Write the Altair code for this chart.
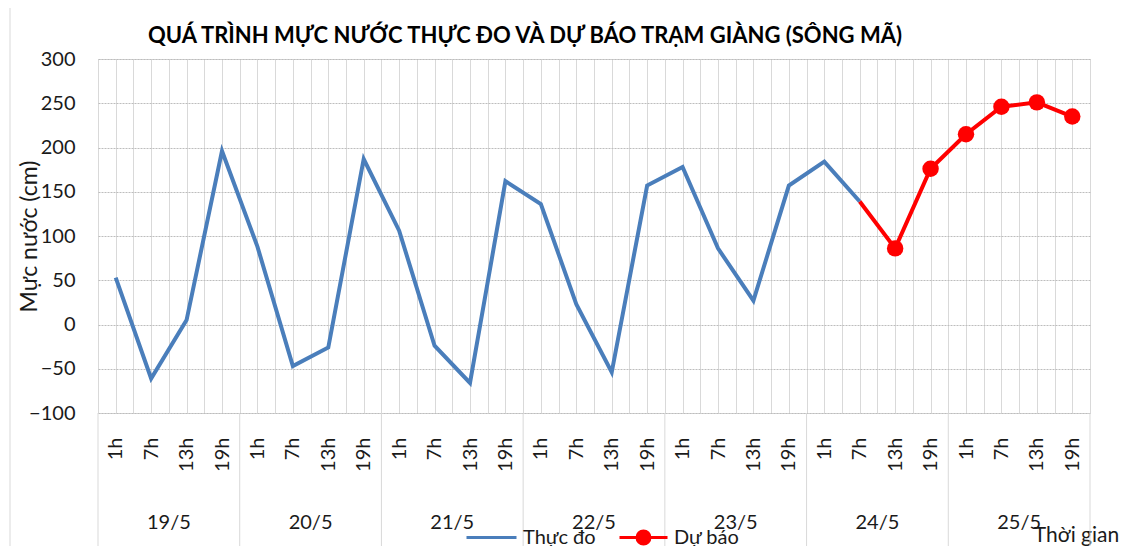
import altair as alt
import pandas as pd

# ---- data ----
days = ["19/5", "20/5", "21/5", "22/5", "23/5", "24/5", "25/5"]
hours = ["1h", "7h", "13h", "19h"]
measured = [53, -61, 5, 196, 88, -47, -26, 187, 106, -24, -66, 162,
            136, 23, -54, 157, 178, 86, 27, 157, 184, 139]
forecast = [139, 86, 176, 215, 246, 251, 235]
series_names = ["Thực đo", "Dự báo"]
series_colors = ["#4a7ebb", "#ff0000"]
y_ticks = [-100, -50, 0, 50, 100, 150, 200, 250, 300]
title_text = "QUÁ TRÌNH MỰC NƯỚC THỰC ĐO VÀ DỰ BÁO TRẠM  GIÀNG (SÔNG MÃ)"
y_title = "Mực nước (cm)"
x_title = "Thời gian"

FONT = "Lato"
TXT = "#1a1a1a"
n = len(days) * len(hours)
f_start = len(measured) - 1

rows = []
for i, v in enumerate(measured):
    rows.append({"idx": i, "value": v, "series": series_names[0]})
for j, v in enumerate(forecast):
    rows.append({"idx": f_start + j, "value": v, "series": series_names[1]})
df = pd.DataFrame(rows)
df_pts = df[(df.series == series_names[1]) & (df.idx > f_start)]

day_df = pd.DataFrame({"day": days,
                       "center": [i * len(hours) + (len(hours) - 1) / 2 for i in range(len(days))]})
sep_df = pd.DataFrame({"pos": [i * len(hours) - 0.5 for i in range(len(days) + 1)]})

W, H = 992, 354
xscale = alt.Scale(domain=[-0.5, n - 0.5], nice=False, zero=False)
yscale = alt.Scale(domain=[-100, 300], nice=False)

hour_list = "[" + ",".join("'" + h + "'" for h in hours) + "]"
x_axis = alt.Axis(
    values=[k * 0.5 - 0.5 for k in range(2 * n + 1)],
    labelExpr=f"datum.value % 1 == 0 ? {hour_list}[datum.value % {len(hours)}] : ''",
    labelAngle=270, labelAlign="right", labelBaseline="middle",
    labelPadding=24, labelOverlap=False, labelFlush=False,
    labelFontSize=20, labelFont=FONT, labelColor=TXT,
    ticks=False, domain=False,
    grid=True, gridColor="#d9d9d9", gridWidth=1,
    title=x_title, titleFont=FONT, titleFontSize=21, titleFontWeight="normal",
    titleColor=TXT, titleX=978, titleY=122, titleAlign="center",
    titleBaseline="middle", titleAngle=0,
)
y_axis = alt.Axis(
    values=y_ticks, ticks=False, domain=False,
    labelFontSize=20, labelFont=FONT, labelColor=TXT, labelPadding=23,
    grid=True, gridColor="#bdbdbd", gridDash=[2, 1], gridWidth=1,
    title=y_title, titleFont=FONT, titleFontSize=23, titleFontWeight="normal",
    titleColor=TXT, titleX=-69, titleY=H / 2, titleAngle=270,
    titleAlign="center", titleBaseline="middle",
)

color_scale = alt.Scale(domain=series_names, range=series_colors)

lines = alt.Chart(df).mark_line(strokeWidth=4).encode(
    x=alt.X("idx:Q", scale=xscale, axis=x_axis),
    y=alt.Y("value:Q", scale=yscale, axis=y_axis),
    color=alt.Color("series:N", scale=color_scale, sort=series_names,
                    legend=alt.Legend(values=[series_names[0]], orient="none",
                                      legendX=367, legendY=452, title=None,
                                      symbolType="stroke", symbolSize=2500,
                                      symbolStrokeWidth=3, labelFontSize=20,
                                      labelFont=FONT, labelColor=TXT,
                                      labelOffset=5, padding=0)),
    detail="series:N",
)

dot_path = ("M -1,0 L 1,0 M -0.27,0 A 0.27,0.27 0 1,0 0.27,0 "
            "A 0.27,0.27 0 1,0 -0.27,0 Z")
points = alt.Chart(df_pts).mark_point(filled=True, size=270, opacity=1).encode(
    x=alt.X("idx:Q", scale=xscale, axis=x_axis),
    y=alt.Y("value:Q", scale=yscale, axis=y_axis),
    fill=alt.Fill("series:N", scale=alt.Scale(domain=[series_names[1]], range=[series_colors[1]]),
                  legend=alt.Legend(orient="none", legendX=520, legendY=453, title=None,
                                    symbolType=dot_path, symbolSize=2304,
                                    symbolStrokeColor=series_colors[1],
                                    symbolStrokeWidth=3, labelFontSize=20,
                                    labelFont=FONT, labelColor=TXT,
                                    labelOffset=5, padding=0)),
)

seps = alt.Chart(sep_df).mark_rule(color="#d9d9d9", strokeWidth=1).encode(
    x=alt.X("pos:Q", scale=xscale, axis=x_axis),
    y=alt.value(H),
    y2=alt.value(H + 140),
)

frame = alt.Chart(sep_df.head(1)).mark_rule(color="#d9d9d9", strokeWidth=1).encode(
    x=alt.value(-88),
    y=alt.value(-53),
    y2=alt.value(H + 140),
)

day_text = alt.Chart(day_df).mark_text(fontSize=20, font=FONT, color=TXT,
                                        baseline="middle").encode(
    x=alt.X("center:Q", scale=xscale, axis=x_axis),
    y=alt.value(464),
    text="day:N",
)

chart = alt.layer(lines, points, seps, frame, day_text).properties(
    width=W, height=H,
    title=alt.TitleParams(title_text, font=FONT, fontSize=22, fontWeight="bold",
                          color="#000000", anchor="middle", dx=-69, offset=-42),
    autosize=alt.AutoSizeParams(type="none"),
    padding={"left": 90, "top": 51, "right": 38, "bottom": 133},
).configure_view(stroke=None).configure(background="white")

chart.save("out.html", embed_options={"renderer": "svg", "actions": False})
